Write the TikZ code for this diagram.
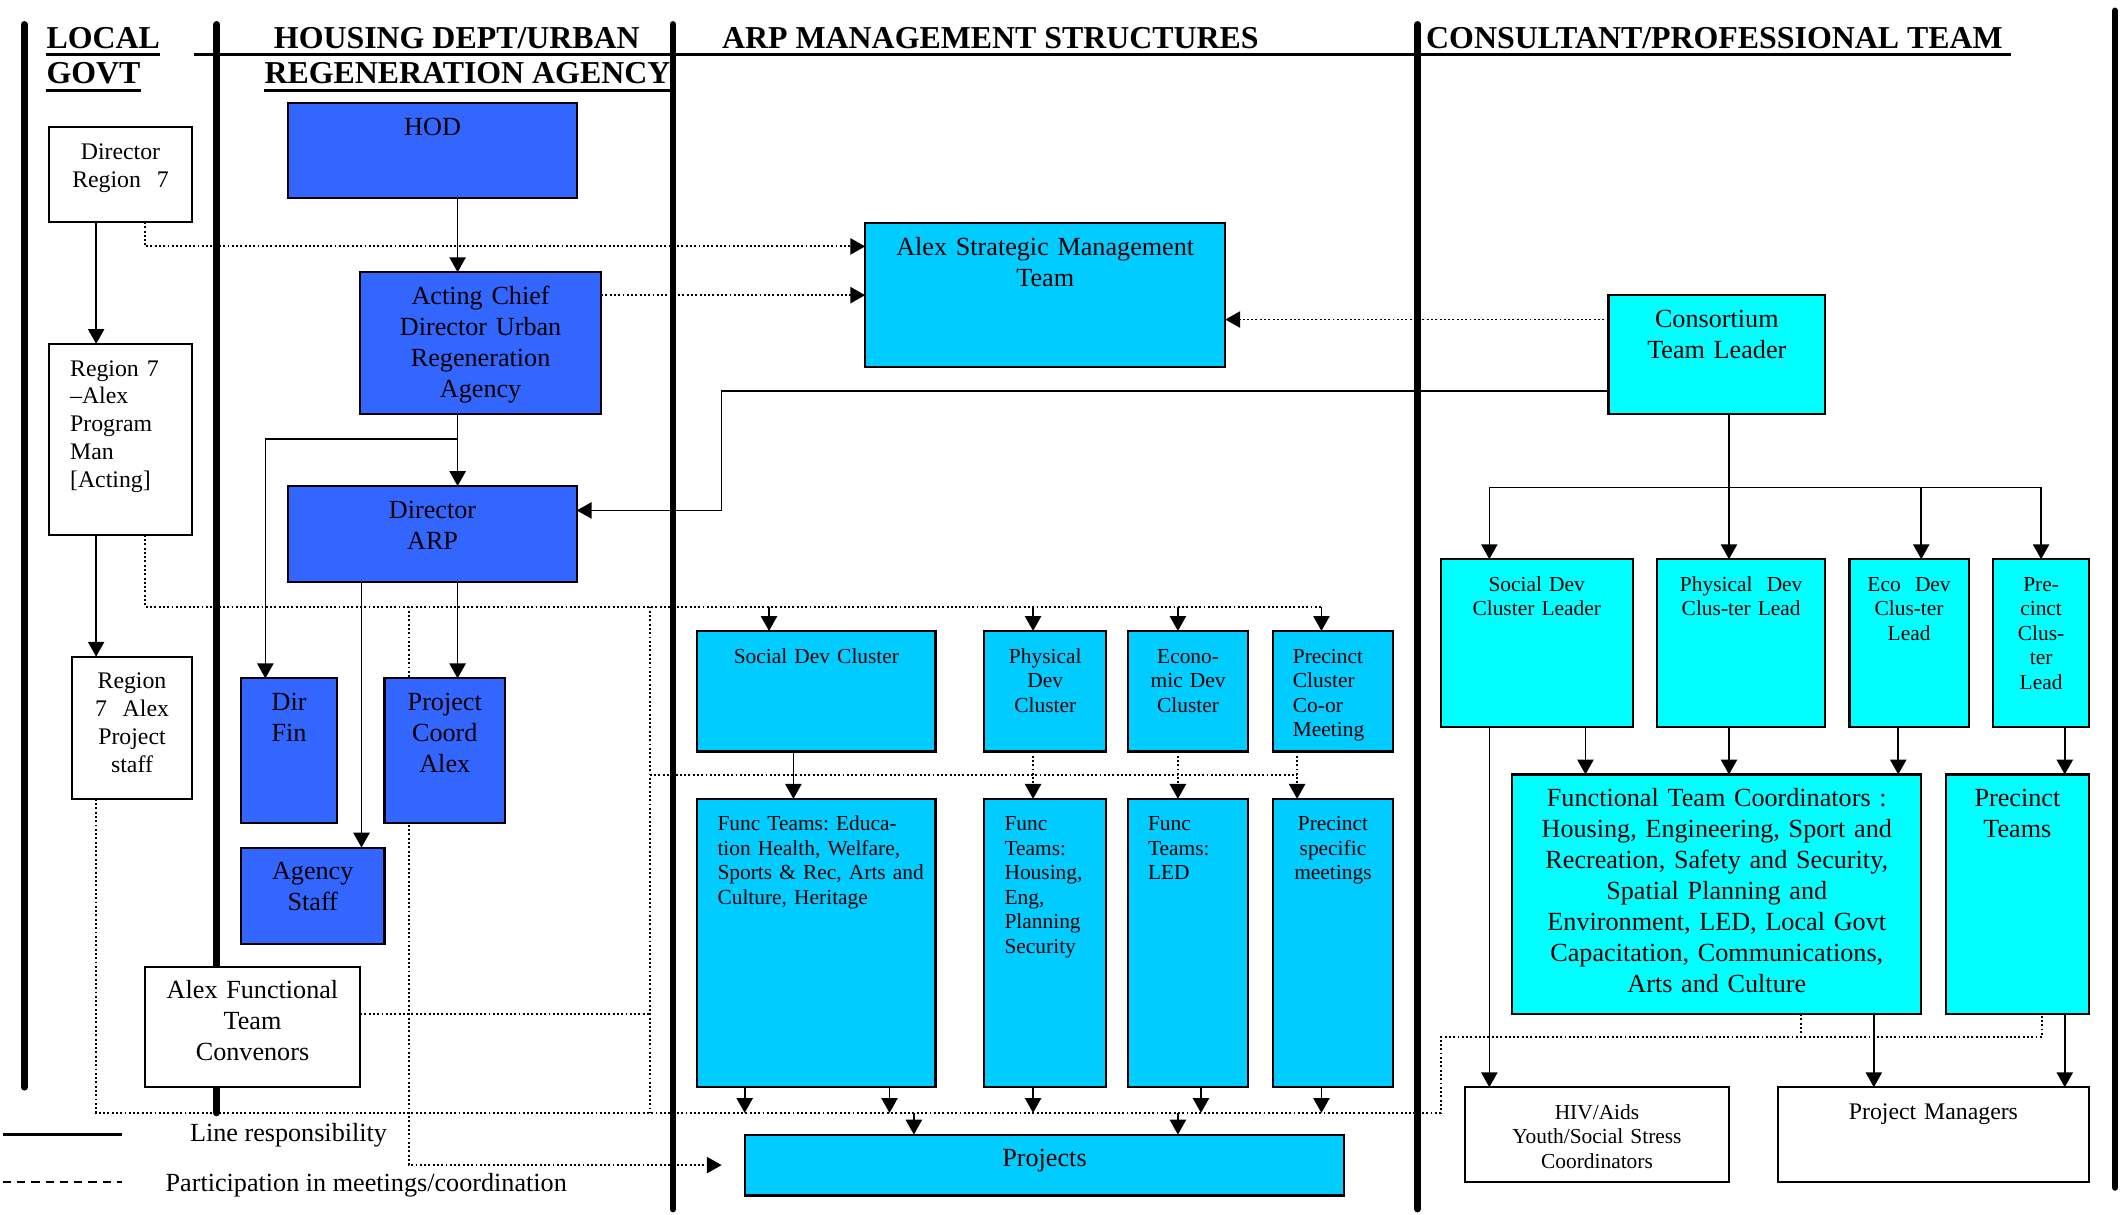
\documentclass[tikz,border=0pt]{standalone}
\usepackage{fontspec}
\setmainfont{Liberation Serif}
\usepackage{tikz}
\usetikzlibrary{
  positioning,
  calc,
  arrows.meta,
  backgrounds
}
\definecolor{deepblue}{HTML}{3366FF}
\definecolor{skyblue}{HTML}{00CCFF}
\definecolor{aquabox}{HTML}{00FFFF}
\tikzset{
  >={Triangle[length=2.2mm,width=2.4mm]},
  orgbase/.style={draw, line width=0.9pt, anchor=north west, inner sep=3pt, outer sep=0pt, text height=10.5pt, align=center},
  dbox/.style={fill=deepblue},
  lbox/.style={fill=skyblue},
  cbox/.style={fill=aquabox},
  wbox/.style={fill=white},
  txtbig/.style={font=\fontsize{11}{13}\selectfont},
  txtmid/.style={font=\fontsize{10}{11.7}\selectfont},
  txtsmall/.style={font=\fontsize{9}{10.3}\selectfont},
  hdr/.style={font=\fontsize{13.4}{15}\selectfont\bfseries, inner sep=0pt, anchor=base west},
  legtext/.style={font=\fontsize{11}{13}\selectfont, inner sep=0pt, anchor=base west},
  lane/.style={line width=2.8pt, line cap=round},
  hline/.style={line width=1.2pt},
  resp/.style={->, line width=0.7pt},
  meet/.style={line width=0.8pt, densely dotted},
  legsolid/.style={line width=1.2pt},
  legdash/.style={line width=1.2pt, dash pattern=on 3.5pt off 2.5pt}
}
% box from its top left and bottom right corner, text at the top
\newcommand\orgbox[8][3]{%
  \pgfmathsetmacro\obw{(#6-#4)*0.569055}%
  \pgfmathsetmacro\obtw{\obw-2*#1}%
  \pgfmathsetmacro\obtd{(#7-#5)*0.569055-16.5}%
  \node[orgbase, #2, minimum width=\obw pt, text width=\obtw pt, text depth=\obtd pt] (#3) at (#4,#5) {#8};%
}

\begin{document}
\frenchspacing
\begin{tikzpicture}[x=0.02cm, y=-0.02cm]
    \useasboundingbox (0,0) rectangle (1568,897);

    \draw[lane] (18,18) -- (18,803);
    \draw[lane] (160,18) -- (160,822);
    \draw[lane] (497,18) -- (497,893);
    \draw[lane] (1047,18) -- (1047,893);
    \draw[lane] (1562,8) -- (1562,877);
    \draw[hline] (143,40) -- (1485,40);

    \node[hdr] (hlocal) at (34,36) {LOCAL};
    \node[hdr] (hgovt) at (34,62) {GOVT};
    \node[hdr] (hhousing) at (202,36) {HOUSING DEPT/URBAN};
    \node[hdr] (hregen) at (195,62) {REGENERATION AGENCY};
    \node[hdr] (harp) at (533,36) {ARP MANAGEMENT STRUCTURES};
    \node[hdr] (hcons) at (1053,36) {CONSULTANT/PROFESSIONAL TEAM};
    \draw[hline] ([yshift=-2.4pt]hlocal.base west) -- ([yshift=-2.4pt]hlocal.base east);
    \draw[hline] ([yshift=-2.6pt]hgovt.base west) -- ([yshift=-2.6pt]hgovt.base east);
    \draw[hline] ([yshift=-2.6pt]hregen.base west) -- ([yshift=-2.6pt]hregen.base east);

    \orgbox{wbox, txtmid}{dirreg}{36}{94}{142}{164}{Director\\Region~~7}
    \orgbox[9]{wbox, txtmid, align=left}{regprog}{36}{254}{142}{395}{Region 7\\–Alex\\Program\\Man\\{[Acting]}}
    \orgbox{wbox, txtmid}{regstaff}{53}{485}{142}{590}{Region\\7~~Alex\\Project\\staff}
    \orgbox{wbox, txtbig}{convenors}{107}{714}{266}{803}{Alex Functional\\Team\\Convenors}

    \orgbox{dbox, txtbig}{hod}{213}{76}{426}{146}{HOD}
    \orgbox{dbox, txtbig}{acting}{266}{201}{444}{306}{Acting Chief\\Director Urban\\Regeneration\\Agency}
    \orgbox{dbox, txtbig}{dirarp}{213}{359}{426}{430}{Director\\ARP}
    \orgbox{dbox, txtbig}{dirfin}{178}{501}{249}{608}{Dir\\Fin}
    \orgbox{dbox, txtbig}{projcoord}{284}{501}{373}{608}{Project\\Coord\\Alex}
    \orgbox{dbox, txtbig}{agstaff}{178}{626}{284}{697}{Agency\\Staff}

    \orgbox{lbox, txtbig}{asmt}{639}{165}{905}{271}{Alex Strategic Management\\Team}
    \orgbox{lbox, txtsmall}{socclus}{515}{466}{691}{555}{Social Dev Cluster}
    \orgbox{lbox, txtsmall}{physclus}{727}{466}{817}{555}{Physical\\Dev\\Cluster}
    \orgbox{lbox, txtsmall}{ecoclus}{833}{466}{922}{555}{Econo-\\mic Dev\\Cluster}
    \orgbox[8.5]{lbox, txtsmall, align=left}{preclus}{940}{466}{1029}{555}{Precinct\\Cluster\\Co-or\\Meeting}
    \orgbox[8.5]{lbox, txtsmall, align=left}{ftsocial}{515}{590}{691}{803}{Func~Teams:~Educa-\\tion~Health,~Welfare,\\Sports~\&~Rec,~Arts~and\\Culture,~Heritage}
    \orgbox[8.5]{lbox, txtsmall, align=left}{fthousing}{727}{590}{817}{803}{Func\\Teams:\\Housing,\\Eng,\\Planning\\Security}
    \orgbox[8.5]{lbox, txtsmall, align=left}{ftled}{833}{590}{922}{803}{Func\\Teams:\\LED}
    \orgbox{lbox, txtsmall}{precmeet}{940}{590}{1029}{803}{Precinct\\specific\\meetings}
    \orgbox{lbox, txtbig}{projects}{550}{838}{993}{883}{Projects}

    \orgbox{cbox, txtbig}{consort}{1188}{218}{1348}{306}{Consortium\\Team Leader}
    \orgbox{cbox, txtsmall}{socld}{1064}{413}{1206}{537}{Social Dev\\Cluster Leader}
    \orgbox{cbox, txtsmall}{physld}{1224}{413}{1348}{537}{Physical~~Dev\\Clus-ter Lead}
    \orgbox{cbox, txtsmall}{ecold}{1366}{413}{1454}{537}{Eco~~Dev\\Clus-ter\\Lead}
    \orgbox{cbox, txtsmall}{precld}{1472}{413}{1543}{537}{Pre-\\cinct\\Clus-\\ter\\Lead}
    \orgbox{cbox, txtbig}{ftcoord}{1117}{572}{1419}{749}{Functional Team Coordinators :\\Housing, Engineering, Sport and\\Recreation, Safety and Security,\\Spatial Planning and\\Environment, LED, Local Govt\\Capacitation, Communications,\\Arts and Culture}
    \orgbox{cbox, txtbig}{precteams}{1437}{572}{1543}{749}{Precinct\\Teams}
    \orgbox{wbox, txtsmall}{hivaids}{1082}{803}{1277}{873}{HIV/Aids\\Youth/Social Stress\\Coordinators}
    \orgbox{wbox, txtmid}{projmgr}{1313}{803}{1543}{873}{Project Managers}

    \node[legtext] (legresp) at (140,843) {Line responsibility};
    \node[legtext] (legmeet) at (122,880) {Participation in meetings/coordination};
    \draw[legsolid] (2,838) -- (90,838);
    \draw[legdash] (2,873) -- (90,873);

    \begin{scope}[on background layer]
    % line responsibility
    \draw[resp] ($(dirreg.south west)+(35,0)$) coordinate (a1) -- (a1 |- regprog.north);
    \draw[resp] ($(regprog.south west)+(35,0)$) coordinate (a2) -- (a2 |- regstaff.north);
    \draw[resp] ($(hod.south)+(18.5,0)$) coordinate (a3) -- (a3 |- acting.north);
    \draw[resp] ($(acting.south)+(-17,0)$) coordinate (a4) -- (a4 |- dirarp.north);
    \draw[resp] ($(a4)+(0,18)$) -| ($(dirfin.north)+(-17.5,0)$);
    \draw[resp] ($(dirarp.south)+(18.5,0)$) coordinate (a5) -- (a5 |- projcoord.north);
    \draw[resp] ($(dirarp.south west)+(54,0)$) coordinate (a6) -- (a6 |- agstaff.north);
    \draw[resp] ($(consort.west)+(0,27)$) -| ($(dirarp.east)+(107,-17.5)$) -- ($(dirarp.east)+(0,-17.5)$);
    \draw[resp] ($(consort.south)+(9,0)$) coordinate (a7) -- (a7 |- physld.north);
    \coordinate (lbus) at ($(a7)+(0,54)$);
    \draw[resp] (lbus) -| ($(socld.north)+(-35,0)$);
    \draw[resp] (lbus) -| ($(ecold.north)+(9,0)$);
    \draw[resp] (lbus) -| (precld.north);
    \draw[resp] ($(socclus.south)+(-17,0)$) coordinate (a8) -- (a8 |- ftsocial.north);
    \draw[resp] ($(socld.south)+(-35,0)$) coordinate (a9) -- (a9 |- hivaids.north);
    \draw[resp] ($(socld.south)+(36,0)$) coordinate (a10) -- (a10 |- ftcoord.north);
    \draw[resp] ($(physld.south)+(-9,0)$) coordinate (a11) -- (a11 |- ftcoord.north);
    \draw[resp] ($(ecold.south)+(-8,0)$) coordinate (a12) -- (a12 |- ftcoord.north);
    \draw[resp] ($(precld.south)+(17.5,0)$) coordinate (a13) -- (a13 |- precteams.north);
    \draw[resp] ($(ftcoord.south)+(116,0)$) coordinate (a14) -- (a14 |- projmgr.north);
    \draw[resp] ($(precteams.south)+(35,0)$) coordinate (a15) -- (a15 |- projmgr.north);

    % participation
    \coordinate (pbus) at ($(ftsocial.south)+(0,19)$);
    \coordinate (cbus) at ($(regprog.south)+(18,53)$);
    \coordinate (mbus) at ($(socclus.south)!.5!(ftsocial.north)$);
    \coordinate (qbus) at ($(ftcoord.south)+(62,17)$);
    \coordinate (x302) at ($(projcoord.north west)+(18,0)$);
    \coordinate (x480) at ($(socclus.north west)+(-35,0)$);
    \coordinate (x958) at ($(precmeet.north)+(-26.5,0)$);
    \coordinate (e1) at ($(socclus.north)+(-35,0)$);
    \coordinate (e2) at ($(physclus.north)+(-9,0)$);
    \coordinate (e3) at ($(ecoclus.north)+(-7.5,0)$);
    \coordinate (e4) at ($(preclus.north)+(-8.5,0)$);
    \draw[meet, ->] ($(dirreg.south)+(18,0)$) |- ($(asmt.west)+(0,-36)$);
    \draw[meet, ->] (acting.east |- asmt.west) -- (asmt.west);
    \draw[meet, ->] ($(consort.west)+(0,-26)$) coordinate (d1) -- (d1 -| asmt.east);
    \draw[meet] ($(regprog.south)+(18,0)$) -- (cbus) -- (cbus -| e4);
    \draw[resp] (e1 |- cbus) -- (e1);
    \draw[resp] (e2 |- cbus) -- (e2);
    \draw[resp] (e3 |- cbus) -- (e3);
    \draw[resp] (e4 |- cbus) -- (e4);
    \draw[meet, ->] (x302 |- cbus) |- ($(projects.west)+(-17,0)$);
    \draw[meet] (x480 |- cbus) -- (x480 |- pbus);
    \draw[meet] (x480 |- mbus) -- (mbus -| x958);
    \draw[meet, ->] ($(physclus.south)+(-9,0)$) coordinate (f1) -- (f1 |- fthousing.north);
    \draw[meet, ->] ($(ecoclus.south)+(-7.5,0)$) coordinate (f2) -- (f2 |- ftled.north);
    \draw[meet, ->] (x958 |- preclus.south) -- (x958);
    \draw[meet] ($(convenors.east)+(0,-9.5)$) coordinate (f3) -- (f3 -| x480);
    \draw[meet] ($(regstaff.south)+(-26.5,0)$) |- (socld.west |- pbus) |- (qbus) -| ($(precteams.south)+(18,0)$);
    \draw[meet] ($(ftcoord.south)+(62,0)$) -- (qbus);
    \draw[resp] ($(ftsocial.south west)+(35,0)$) coordinate (b1) -- (b1 |- pbus);
    \draw[resp] ($(ftsocial.south east)+(-34,0)$) coordinate (b2) -- (b2 |- pbus);
    \draw[resp] ($(fthousing.south)+(-9,0)$) coordinate (b3) -- (b3 |- pbus);
    \draw[resp] ($(ftled.south)+(9.5,0)$) coordinate (b4) -- (b4 |- pbus);
    \draw[resp] ($(precmeet.south)+(-8.5,0)$) coordinate (b5) -- (b5 |- pbus);
    \coordinate (b6) at ($(projects.north)+(-96.5,0)$);
    \coordinate (b7) at ($(projects.north)+(98.5,0)$);
    \draw[resp] (b6 |- pbus) -- (b6);
    \draw[resp] (b7 |- pbus) -- (b7);
    \end{scope}
\end{tikzpicture}
\end{document}
